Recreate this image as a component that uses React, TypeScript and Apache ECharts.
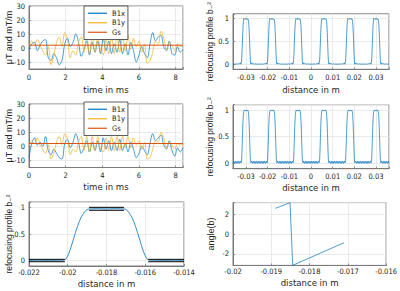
import React, { useEffect, useRef } from 'react';
import * as echarts from 'echarts';

// ---------- data ----------
const timeMs = [0, 0.15, 0.3, 0.45, 0.6, 0.75, 0.9, 1.05, 1.2, 1.35, 1.5, 1.65, 1.8, 1.95, 2.1, 2.25, 2.4, 2.55, 2.7, 2.85, 3.0, 3.15, 3.3, 3.45, 3.6, 3.75, 3.9, 4.05, 4.2, 4.35, 4.5, 4.65, 4.8, 4.95, 5.1, 5.25, 5.4, 5.55, 5.7, 5.85, 6.0, 6.15, 6.3, 6.45, 6.6, 6.75, 6.9, 7.05, 7.2, 7.35, 7.5, 7.65, 7.8, 7.95, 8.1, 8.25, 8.4];
const b1xTop = [-1, 3, 4, -2, 2, 5, 6, -7, -9, -4, -7, -12, -9, 3, 7, 1, 4, 10, 4, -6, -1, 5, -5, 4, -3, 5, -4, 7, -2, 5, -4, 3, -3, 6, -4, 3, -5, 4, -2, -10, -5, 1, -4, -7, 3, 11, 5, 8, 9, 1, -2, 5, -4, -5, 1, -3, -1];
const b1yTop = [1, 5, 3, 6, 2, -2, -5, 1, -12, -6, 4, 8, 1, 11, 6, -7, -2, -5, 4, 8, -3, 9, -4, 8, -3, 9, -2, -5, 7, -4, 8, -4, 9, -3, 8, -2, 9, -1, 7, 1, 5, -3, 3, -11, -9, -3, 5, 3, 12, 7, -1, 4, 2, -2, 3, 1, 2];
const b1xMid = [-8, 2, 6, 1, 3, 0, 7, -3, -6, -2, -5, -8, -9, 2, 5, -1, 3, 9, 3, -5, -1, 4, -4, 3, -3, 4, -4, 6, -2, 4, -3, 3, -3, 5, -3, 2, -4, 3, -2, -8, -5, 0, -3, -6, 2, 9, 4, 6, 8, 1, -2, 4, -3, -7, -1, -4, -1];
const b1yMid = [0, 4, 2, 6, 1, -2, -5, 1, -9, -5, 3, 7, 1, 9, 5, -6, -2, -4, 3, 7, -3, 7, -4, 7, -3, 7, -2, -4, 6, -3, 7, -3, 7, -3, 7, -1, 7, -1, 6, 1, 4, -2, 3, -9, -8, -2, 4, 3, 10, 6, -1, 3, 1, -2, 2, 1, 2];
const gsTime = [0, 8.4];
const gsTop = [2, 2];
const gsMid = [2, 2];

const peakCenters = [-0.03, -0.018, -0.006, 0.006, 0.018, 0.03];
const shapeOffsetsA = [-0.006, -0.0055, -0.005, -0.0045, -0.004, -0.0035, -0.003, -0.0026, -0.0024, -0.0022, -0.0021, -0.002, -0.0019, -0.0018, -0.0017, -0.0016, -0.0015, -0.0014, -0.0013, -0.0012, -0.0011, -0.001, -0.0009, -0.0006, -0.0003, 0, 0.0003, 0.0006, 0.0009, 0.001, 0.0011, 0.0012, 0.0013, 0.0014, 0.0015, 0.0016, 0.0017, 0.0018, 0.0019, 0.002, 0.0021, 0.0022, 0.0024, 0.0026, 0.003, 0.0035, 0.004, 0.0045, 0.005, 0.0055, 0.006];
const shapeValuesA = [0.01, 0.015, 0.01, 0.02, 0.01, 0.02, 0.015, 0.04, 0.01, 0.03, 0.03, 0.1, 0.2, 0.32, 0.45, 0.57, 0.69, 0.79, 0.87, 0.93, 0.97, 1.0, 0.99, 0.98, 1.0, 0.98, 1.0, 0.98, 0.99, 1.0, 0.97, 0.93, 0.87, 0.79, 0.69, 0.57, 0.45, 0.32, 0.2, 0.1, 0.03, 0.03, 0.01, 0.04, 0.015, 0.02, 0.01, 0.02, 0.01, 0.015, 0.01];
const shapeOffsetsB = [-0.006, -0.00563, -0.00525, -0.00488, -0.0045, -0.00413, -0.00375, -0.00338, -0.003, -0.00263, -0.00225, -0.002, -0.0019, -0.0018, -0.0017, -0.0016, -0.0015, -0.0014, -0.0013, -0.0012, -0.0011, -0.001, -0.0008, -0.0005, 0, 0.0005, 0.0008, 0.001, 0.0011, 0.0012, 0.0013, 0.0014, 0.0015, 0.0016, 0.0017, 0.0018, 0.0019, 0.002, 0.00225, 0.00263, 0.003, 0.00338, 0.00375, 0.00413, 0.0045, 0.00488, 0.00525, 0.00563, 0.006];
const shapeValuesB = [0.0, 0.04, 0.0, 0.04, 0.0, 0.04, 0.0, 0.04, 0.0, 0.04, 0.01, 0.08, 0.18, 0.3, 0.43, 0.56, 0.68, 0.78, 0.86, 0.92, 0.96, 0.98, 1.0, 0.99, 0.99, 0.99, 1.0, 0.98, 0.96, 0.92, 0.86, 0.78, 0.68, 0.56, 0.43, 0.3, 0.18, 0.08, 0.01, 0.04, 0.0, 0.04, 0.0, 0.04, 0.0, 0.04, 0.0, 0.04, 0.0];

const zoomX = [-0.022, -0.0215, -0.021, -0.0205, -0.0202, -0.0201, -0.02, -0.0199, -0.0198, -0.0197, -0.0196, -0.0195, -0.0194, -0.0193, -0.0192, -0.0191, -0.019, -0.0189, -0.0185, -0.018, -0.0175, -0.0171, -0.017, -0.0169, -0.0168, -0.0167, -0.0166, -0.0165, -0.0164, -0.0163, -0.0162, -0.0161, -0.016, -0.0159, -0.0158, -0.0155, -0.015, -0.0145, -0.014];
const zoomProfile = [0.005, 0.008, 0.005, 0.008, 0.01, 0.03, 0.09, 0.18, 0.29, 0.41, 0.53, 0.64, 0.74, 0.82, 0.88, 0.93, 0.96, 0.97, 0.975, 0.97, 0.975, 0.97, 0.96, 0.93, 0.88, 0.82, 0.74, 0.64, 0.53, 0.41, 0.29, 0.18, 0.09, 0.03, 0.01, 0.008, 0.005, 0.008, 0.005];
const bandStart = [-0.022, -0.022, -0.0189, -0.0189, -0.01585, -0.01585];
const bandEnd = [-0.02015, -0.02015, -0.0171, -0.0171, -0.014, -0.014];
const bandLevel = [0.025, -0.02, 1.0, 0.945, 0.025, -0.02];

const angleX = [-0.01889, -0.01851, -0.01844, -0.0171];
const angleY = [2.57, 3.13, -3.13, -0.87];
const angleXTicks = [-0.02, -0.019, -0.018, -0.017, -0.016];

const legendNames = ['B1x', 'B1y', 'Gs'];

// ---------- style ----------
const NARROW = "'Liberation Sans Narrow', 'Arial Narrow', 'DejaVu Sans Condensed', 'Liberation Sans', sans-serif";
const REG = "'Liberation Sans', Arial, 'DejaVu Sans', sans-serif";
const BOX = '#7a7a7a';
const GRIDC = '#e4e4e4';
const TXT = '#262626';
const BLUE = '#0072BD';
const YELLOW = '#EDB120';
const RED = '#D95319';

const fmt = (v: number) => String(parseFloat(v.toFixed(6)));
const onStep = (step: number) => (v: number) =>
  Math.abs(v / step - Math.round(v / step)) < 1e-6 ? fmt(v) : '';

const pairs = (xs: number[], ys: number[]) => xs.map((x, i) => [x, ys[i]]);
const periodic = (offs: number[], vals: number[]) => {
  const out: number[][] = [];
  peakCenters.forEach((c, k) => {
    offs.forEach((o, i) => {
      if (k > 0 && i === 0) return;
      out.push([c + o, vals[i]]);
    });
  });
  return out;
};

function axisBase(extra: any) {
  return {
    axisLine: { show: true, onZero: false, lineStyle: { color: BOX, width: 1 } },
    axisTick: { show: true, inside: true, length: 2, lineStyle: { color: BOX, width: 0.8 } },
    splitLine: { show: true, lineStyle: { color: GRIDC, width: 0.8 } },
    ...extra,
  };
}

function xAx(gridIndex: number, min: number, max: number, step: number, name: string, gap: number, margin: number, extra: any = {}, labelExtra: any = {}) {
  return axisBase({
    type: 'value', gridIndex, min, max, ...extra,
    name, nameLocation: 'middle', nameGap: gap, nameMoveOverlap: false,
    nameTextStyle: { fontSize: 9.5, fontFamily: NARROW, color: TXT },
    axisLabel: {
      fontSize: 7.5, fontFamily: NARROW, color: TXT, margin, interval: 0,
      hideOverlap: false, showMinLabel: true, showMaxLabel: true, formatter: onStep(step),
      ...labelExtra,
    },
  });
}
function yAx(gridIndex: number, min: number, max: number, step: number, name: string, gap: number, fs: number, extra: any = {}) {
  return axisBase({
    type: 'value', gridIndex, min, max, ...extra,
    name, nameLocation: 'middle', nameGap: gap, nameMoveOverlap: false,
    nameTextStyle: { fontSize: fs, fontFamily: REG, color: TXT },
    axisLabel: { fontSize: 7.5, fontFamily: NARROW, color: TXT, margin: 4, formatter: onStep(step) },
  });
}

const profName = 'refocusing profile b\u208B\u00B2';

function line(name: string, xi: number, data: any, color: string, width = 0.7, z = 2, smooth: any = false) {
  return {
    type: 'line', name, xAxisIndex: xi, yAxisIndex: xi, data,
    showSymbol: false, symbol: 'none', z, smooth,
    lineStyle: { color, width }, itemStyle: { color },
  };
}

function legendAt(top: number) {
  return {
    left: 84, top, orient: 'vertical', data: legendNames,
    icon: 'rect', itemWidth: 19, itemHeight: 1.2, itemGap: 1,
    backgroundColor: '#fff', borderColor: '#333', borderWidth: 0.8,
    padding: [3, 3, 3, 4], selectedMode: false,
    textStyle: { fontSize: 7.5, fontFamily: NARROW, color: TXT, width: 12, align: 'right', lineHeight: 8.5 },
  };
}

export default function App() {
  const ref = useRef<HTMLDivElement>(null);
  useEffect(() => {
    const chart = echarts.init(ref.current!, null, { renderer: 'svg' });
    const bands = bandLevel.map((lv, i) =>
      line('band' + i, 4, [[bandStart[i], lv], [bandEnd[i], lv]], '#000', 1, 3));
    chart.setOption({
      animation: false,
      backgroundColor: '#fff',
      grid: [
        { left: 29, top: 6, width: 154, height: 63, show: true, borderColor: BOX, borderWidth: 1 },
        { left: 233, top: 5, width: 156, height: 64.3, show: true, borderColor: BOX, borderWidth: 1 },
        { left: 29, top: 104, width: 154, height: 63.5, show: true, borderColor: BOX, borderWidth: 1 },
        { left: 233, top: 104.7, width: 156, height: 64, show: true, borderColor: BOX, borderWidth: 1 },
        { left: 29, top: 202, width: 155, height: 64, show: true, borderColor: BOX, borderWidth: 1 },
        { left: 233, top: 202.6, width: 155, height: 62.8, show: true, borderColor: BOX, borderWidth: 1 },
      ],
      legend: [legendAt(6), legendAt(102)],
      xAxis: [
        xAx(0, 0, 8.4, 2, 'time in ms', 15, 4, { interval: 2 }),
        xAx(1, -0.036, 0.036, 0.01, 'distance in m', 15, 4, { splitNumber: 6 }),
        xAx(2, 0, 8.4, 2, 'time in ms', 14, 4, { interval: 2 }),
        xAx(3, -0.036, 0.036, 0.01, 'distance in m', 14, 4, { splitNumber: 6 }),
        xAx(4, -0.022, -0.014, 0.002, 'distance in m', 12, 2.5, { interval: 0.002 }),
        xAx(5, -0.02, -0.016, 0.001, 'distance in m', 12, 2.5, { interval: 0.001 },
          { customValues: angleXTicks, formatter: (v: number) => fmt(v) }),
      ],
      yAxis: [
        yAx(0, -15, 30, 10, 'μT and mT/m', 16, 9, { splitNumber: 5 }),
        yAx(1, -0.1, 1.1, 0.5, profName, 19, 8.5, { splitNumber: 2 }),
        yAx(2, -15, 30, 10, 'μT and mT/m', 16, 9, { splitNumber: 5 }),
        yAx(3, -0.1, 1.1, 0.5, profName, 19, 8.5, { splitNumber: 2 }),
        yAx(4, -0.1, 1.1, 0.5, profName, 16, 8.5, { splitNumber: 2 }),
        yAx(5, -Math.PI, Math.PI, 2, 'angle(b)', 18, 9, { splitNumber: 3 }),
      ],
      series: [
        line('B1x', 0, pairs(timeMs, b1xTop), BLUE, 0.7, 2, 0.35),
        line('B1y', 0, pairs(timeMs, b1yTop), YELLOW, 0.7, 2, 0.35),
        line('Gs', 0, pairs(gsTime, gsTop), RED, 1),
        line('prof1', 1, periodic(shapeOffsetsA, shapeValuesA), BLUE),
        line('B1x', 2, pairs(timeMs, b1xMid), BLUE, 0.7, 2, 0.35),
        line('B1y', 2, pairs(timeMs, b1yMid), YELLOW, 0.7, 2, 0.35),
        line('Gs', 2, pairs(gsTime, gsMid), RED, 1),
        line('prof2', 3, periodic(shapeOffsetsB, shapeValuesB), BLUE),
        ...bands,
        line('zoom', 4, pairs(zoomX, zoomProfile), BLUE, 0.8, 2),
        line('angle', 5, pairs(angleX, angleY), BLUE),
      ],
    });
    return () => chart.dispose();
  }, []);
  return <div ref={ref} style={{ position: 'fixed', left: 0, top: 0, width: 400, height: 291 }} />;
}
